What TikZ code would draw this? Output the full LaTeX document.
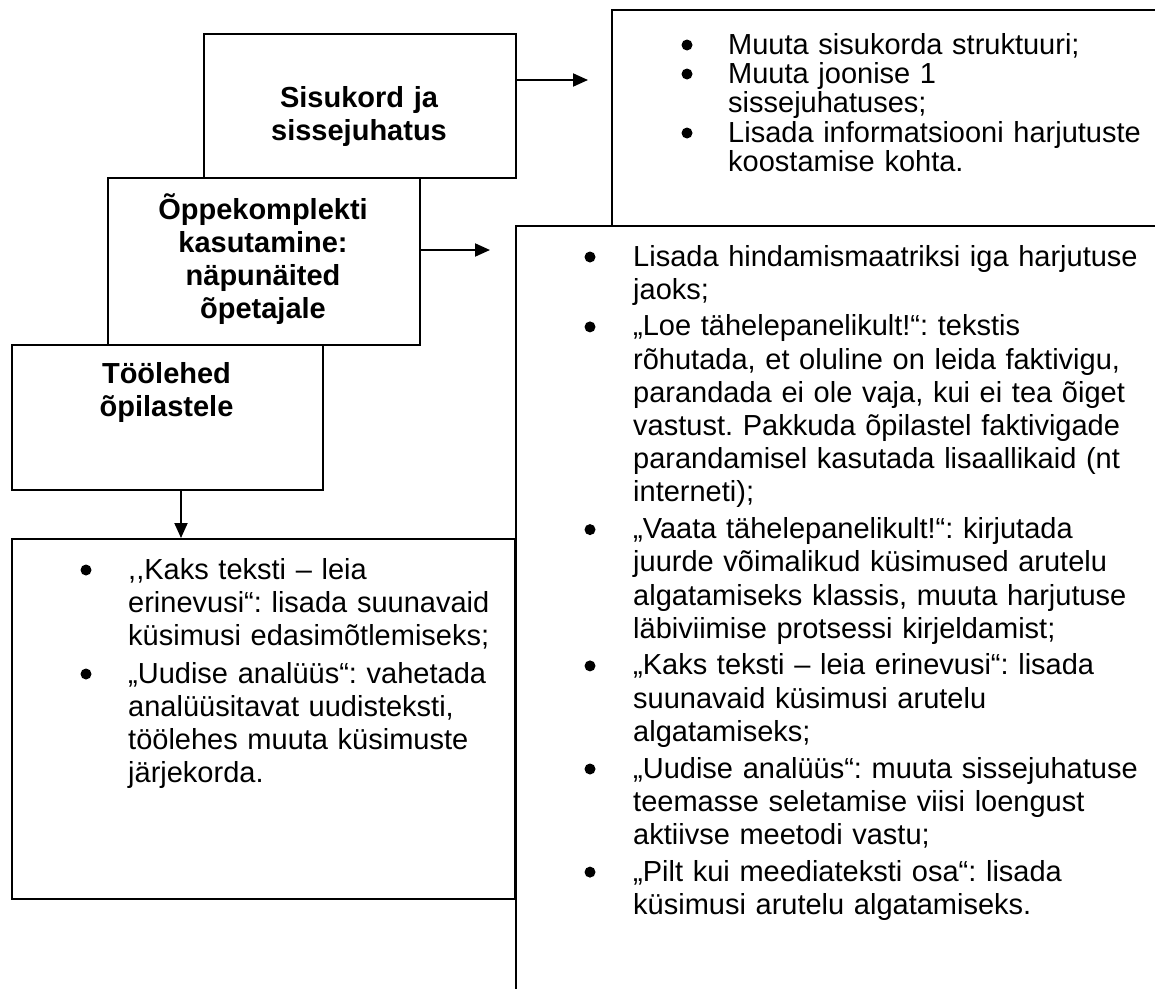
\documentclass[tikz,border=0pt]{standalone}
\usepackage{fontspec}
\setmainfont{Liberation Sans}
\usetikzlibrary{arrows.meta}
\frenchspacing
\begin{document}
\begin{tikzpicture}[x=1pt,y=-1pt,
  box/.style={draw, line width=2pt, inner sep=0pt, anchor=north west},
  txt/.style={inner sep=0pt, anchor=base west, text width=570pt, align=left, font=\frenchspacing\fontsize{29}{33.2}\selectfont},
  txtb/.style={inner sep=0pt, anchor=base west, text width=570pt, align=left, font=\frenchspacing\fontsize{29}{29}\selectfont},
  head/.style={inner sep=0pt, anchor=base, text width=300pt, align=center, font=\bfseries\fontsize{29}{33}\selectfont},
  arr/.style={line width=2pt, -{Triangle[length=15pt,width=13pt]}},
  bul/.style={fill=black}]
\clip (0,0) rectangle (1155,988);
\fill[white] (0,0) rectangle (1155,988);

% boxes
\node[box, minimum width=312pt, minimum height=144pt] (b1) at (203,33) {};
\node[box, minimum width=312pt, minimum height=167pt] (b2) at (107,177) {};
\node[box, minimum width=311pt, minimum height=145pt] (b3) at (11,344) {};
\node[box, minimum width=600pt, minimum height=216pt] (b4) at (611,9) {};
\node[box, minimum width=700pt, minimum height=800pt] (b5) at (515,225) {};
\node[box, minimum width=503pt, minimum height=360pt] (b6) at (11,538) {};

% headings
\node[head] (h1) at (359,107) {Sisukord ja\\sissejuhatus};
\node[head] (h2) at (263,219) {Õppekomplekti\\kasutamine:\\näpunäited\\õpetajale};
\node[head] (h3) at (166.5,383) {Töölehed\\õpilastele};

% arrows
\coordinate (e1) at (588,80);
\coordinate (e2) at (490,250);
\draw[arr] (b1.east |- e1) -- (e1);
\draw[arr] (b2.east |- e2) -- (e2);
\draw[arr] ([xshift=13.5pt]b3.south) -- ([xshift=13.5pt]b3.south |- b6.north);

% box 4 items
\node[txtb] (r1) at (728,54) {Muuta sisukorda struktuuri;};
\node[txtb] (r2) at (728,83) {Muuta joonise 1\\sissejuhatuses;};
\node[txtb] (r3) at (728,142) {Lisada informatsiooni harjutuste\\koostamise kohta.};
\foreach \y in {54,83,142} \fill[bul] (687,\y-9) circle (5.5pt);

% box 5 items
\node[txt] (m1) at (633,266) {Lisada hindamismaatriksi iga harjutuse\\jaoks;};
\node[txt] (m2) at (633,335.9) {„Loe tähelepanelikult!“: tekstis\\rõhutada, et oluline on leida faktivigu,\\parandada ei ole vaja, kui ei tea õiget\\vastust. Pakkuda õpilastel faktivigade\\parandamisel kasutada lisaallikaid (nt\\interneti);};
\node[txt] (m3) at (633,538.6) {„Vaata tähelepanelikult!“: kirjutada\\juurde võimalikud küsimused arutelu\\algatamiseks klassis, muuta harjutuse\\läbiviimise protsessi kirjeldamist;};
\node[txt] (m4) at (633,674.9) {„Kaks teksti – leia erinevusi“: lisada\\suunavaid küsimusi arutelu\\algatamiseks;};
\node[txt] (m5) at (633,778) {„Uudise analüüs“: muuta sissejuhatuse\\teemasse seletamise viisi loengust\\aktiivse meetodi vastu;};
\node[txt] (m6) at (633,881.1) {„Pilt kui meediateksti osa“: lisada\\küsimusi arutelu algatamiseks.};
\foreach \y in {266,335.9,538.6,674.9,778,881.1} \fill[bul] (590,\y-9) circle (5.5pt);

% box 6 items
\node[txt] (l1) at (128,579) {,{},Kaks teksti – leia\\erinevusi“: lisada suunavaid\\küsimusi edasimõtlemiseks;};
\node[txt] (l2) at (128,683) {„Uudise analüüs“: vahetada\\analüüsitavat uudisteksti,\\töölehes muuta küsimuste\\järjekorda.};
\foreach \y in {579,683} \fill[bul] (86,\y-9) circle (5.5pt);
\end{tikzpicture}
\end{document}
